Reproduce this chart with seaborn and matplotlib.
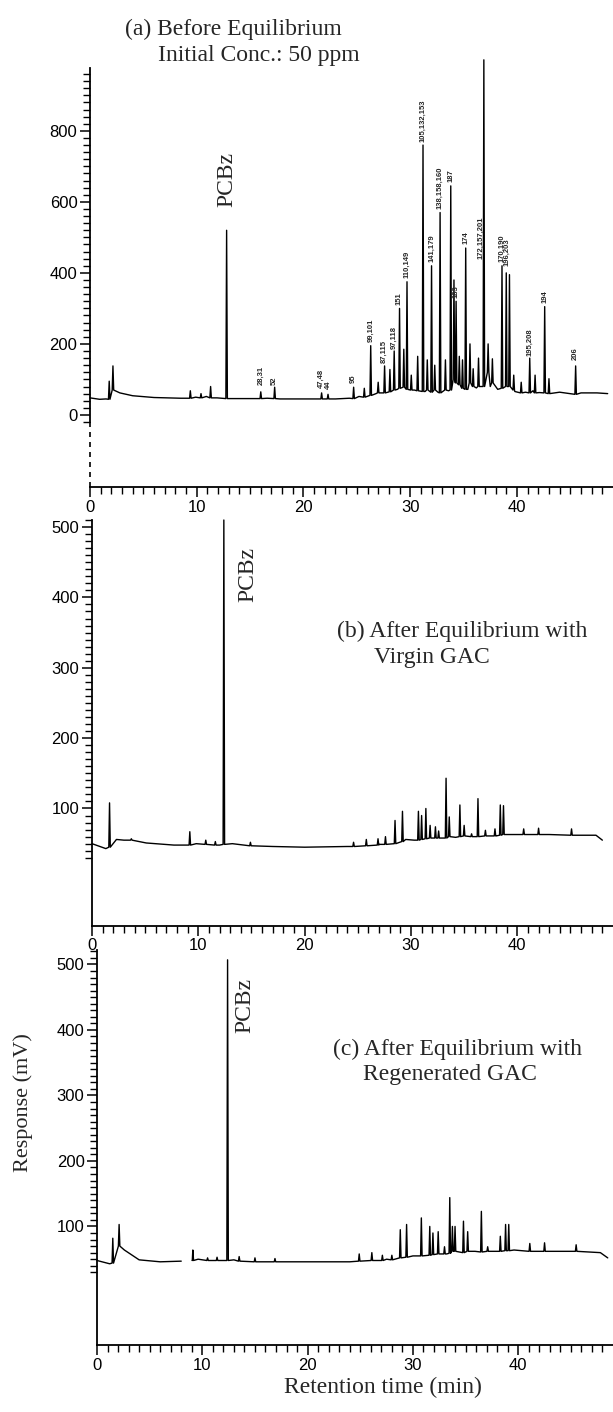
import numpy as np
import pandas as pd
import matplotlib
matplotlib.use('Agg')
import matplotlib.pyplot as plt
import seaborn as sns
from matplotlib.ticker import FixedLocator

# ---- (a) before equilibrium: baseline points + peaks (time min, top mV, foot mV)
a_base_t = [0, 0.9, 1.5, 2.8, 4.0, 6.0, 8.5, 9.9, 10.9, 11.9, 13.5, 15.3, 16.6, 17.8, 21.0, 23.0, 24.3,
            25.2, 26.8, 28.8, 30.4, 31.4, 32.6, 33.6, 35.4, 36.2, 37.5, 38.2, 39.8, 40.8, 41.5, 42.1,
            44.0, 46.0, 47.5, 48.5]
a_base_v = [48, 44, 45, 62, 54, 49, 47, 50, 52, 48, 46, 46, 47, 45, 45, 45, 47,
            52, 60, 72, 70, 66, 64, 68, 72, 76, 80, 72, 66, 64, 68, 63,
            64, 62, 62, 60]
a_peak_t = [1.8, 2.15, 9.4, 10.4, 11.3, 12.8, 16.0, 17.3, 21.7, 22.3, 24.7, 25.7, 26.3, 27.0, 27.6,
            28.1, 28.5, 29.0, 29.4, 29.7, 30.1, 30.7, 31.2, 31.6, 32.0, 32.3, 32.8, 33.3, 33.8, 34.1,
            34.3, 34.6, 34.9, 35.2, 35.6, 35.9, 36.4, 36.9, 37.3, 37.7, 38.6, 39.0, 39.3, 39.7, 40.4,
            41.2, 41.7, 42.6, 43.0, 45.5]
a_peak_top = [95, 138, 68, 60, 80, 520, 65, 78, 62, 58, 78, 75, 195, 92, 138,
              128, 180, 300, 185, 375, 112, 165, 760, 155, 420, 140, 570, 155, 645, 380,
              320, 165, 155, 470, 200, 130, 160, 1000, 200, 158, 420, 400, 395, 112, 92,
              160, 112, 305, 102, 138]
a_peak_foot = [44, 70, 47, 48, 48, 46, 46, 46, 45, 45, 46, 50, 55, 62, 62,
               65, 70, 75, 78, 72, 70, 68, 66, 70, 64, 70, 62, 70, 70, 100,
               90, 85, 75, 72, 90, 80, 80, 80, 120, 90, 75, 80, 80, 70, 62,
               62, 62, 62, 60, 58]
a_lab_t = [16.0, 17.3, 21.7, 22.3, 24.7, 26.3, 27.6, 28.5, 29.0, 29.7, 31.2, 32.0, 32.8, 33.8,
           34.3, 35.2, 36.6, 38.6, 39.1, 41.2, 42.6, 45.5]
a_lab_v = [85, 85, 75, 72, 90, 205, 145, 185, 310, 385, 770, 430, 580, 655,
           330, 480, 440, 430, 420, 165, 315, 155]
a_lab_txt = ['28,31', '52', '47,48', '44', '95', '99,101', '87,115', '97,118', '151', '110,149',
             '105,132,153', '141,179', '138,158,160', '187', '183', '174', '172,157,201',
             '170,190', '196,203', '195,208', '194', '206']

# ---- (b) after equilibrium with virgin GAC
b_base_t = [0, 1.3, 2.3, 3.0, 5.1, 7.7, 9.8, 12.0, 13.2, 17.0, 20.0, 24.0, 27.0, 29.5, 30.3,
            32.9, 34.2, 36.0, 38.0, 39.2, 41.0, 43.0, 47.4, 48.0]
b_base_v = [50, 43, 56, 55, 51, 48, 50, 48, 50, 46, 45, 46, 49, 56, 55,
            58, 59, 60, 61, 63, 63, 63, 62, 55]
b_peak_t = [1.65, 3.7, 9.2, 10.7, 11.6, 12.4, 14.9, 24.6, 25.8, 26.9, 27.6, 28.5, 29.2, 30.7, 31.0,
            31.4, 31.8, 32.3, 32.6, 33.3, 33.6, 34.6, 35.0, 35.7, 36.3, 37.0, 37.9, 38.4, 38.7,
            40.6, 42.0, 45.1]
b_peak_top = [108, 57, 67, 55, 53, 510, 52, 52, 56, 57, 60, 83, 96, 96, 90,
              100, 76, 74, 68, 143, 88, 105, 76, 64, 114, 69, 71, 105, 104,
              71, 72, 71]
b_peak_foot = [45, 55, 48, 49, 48, 49, 47, 46, 47, 48, 49, 50, 53, 55, 56,
               57, 58, 58, 58, 58, 60, 60, 61, 60, 60, 61, 61, 62, 63,
               63, 63, 62]

# ---- (c) after equilibrium with regenerated GAC (trace broken between 8 and 9 min)
c_base_t = [0, 1.2, 2.6, 4.0, 6.0, 8.0, 9.05, 9.6, 12.0, 13.0, 18.0, 24.0, 27.5, 30.0, 33.2,
            35.9, 37.6, 39.6, 43.5, 47.8, 48.5]
c_base_v = [48, 43, 64, 49, 46, 47, 48, 50, 48, 49, 46, 46, 50, 55, 58,
            62, 62, 64, 62, 60, 52]
c_peak_t = [1.5, 2.1, 9.1, 10.5, 11.4, 12.4, 13.5, 15.0, 16.9, 24.9, 26.1, 27.1, 28.0, 28.8, 29.4,
            30.8, 31.6, 31.9, 32.4, 33.0, 33.5, 33.75, 34.0, 34.8, 35.2, 36.5, 37.1, 38.3, 38.8,
            39.1, 41.1, 42.5, 45.5]
c_peak_top = [82, 103, 64, 52, 53, 507, 54, 52, 51, 58, 60, 56, 56, 95, 103,
              113, 100, 90, 92, 69, 144, 100, 100, 108, 92, 123, 69, 85, 103,
              103, 74, 75, 72]
c_peak_foot = [44, 70, 48, 48, 48, 48, 47, 46, 46, 47, 48, 48, 49, 52, 53,
               55, 56, 57, 58, 58, 59, 62, 62, 60, 62, 61, 62, 62, 63,
               63, 62, 62, 62]


def trace(base_t, base_v, pk_t, pk_top, pk_foot, w=0.07):
    pts = list(zip(base_t, base_v))
    for t, top, foot in zip(pk_t, pk_top, pk_foot):
        pts += [(t - w, foot), (t, top), (t + w, foot)]
    pts.sort()
    return pd.DataFrame(pts, columns=['t', 'v'])


df_a = trace(a_base_t, a_base_v, a_peak_t, a_peak_top, a_peak_foot)
df_a['seg'] = 0
df_b = trace(b_base_t, b_base_v, b_peak_t, b_peak_top, b_peak_foot)
df_b['seg'] = 0
df_c = trace(c_base_t, c_base_v, c_peak_t, c_peak_top, c_peak_foot)
df_c['seg'] = (df_c['t'] > 8.5).astype(int)

sns.set_theme(style='ticks')
plt.rcParams['font.family'] = ['Liberation Sans', 'DejaVu Sans']
SERIF = ['Liberation Serif', 'DejaVu Serif']

fig = plt.figure(figsize=(6.13, 14.12), dpi=100)
W, H = 613, 1412
# axes rectangles from the pixel layout of the scan
ax_a = fig.add_axes([90 / W, 1 - 487 / H, 1 - 90 / W, (487 - 68) / H])
ax_b = fig.add_axes([92 / W, 1 - 926 / H, 1 - 92 / W, (926 - 520) / H])
ax_c = fig.add_axes([97 / W, 1 - 1345 / H, 1 - 97 / W, (1345 - 950) / H])

panels = [(ax_a, df_a, (-203, 977), [0, 200, 400, 600, 800], np.arange(-20, 980, 20)),
          (ax_b, df_b, (-67, 510), [100, 200, 300, 400, 500], np.arange(30, 511, 10)),
          (ax_c, df_c, (-81, 522), [100, 200, 300, 400, 500], np.arange(30, 521, 10))]

for ax, df, ylim, majors, minors in panels:
    sns.lineplot(data=df, x='t', y='v', units='seg', estimator=None, sort=False,
                 color='black', lw=1.0, ax=ax, clip_on=False)
    ax.set_xlim(0, 49)
    ax.set_ylim(*ylim)
    ax.yaxis.set_major_locator(FixedLocator(majors))
    ax.yaxis.set_minor_locator(FixedLocator(minors))
    ax.xaxis.set_major_locator(FixedLocator([0, 10, 20, 30, 40]))
    ax.xaxis.set_minor_locator(FixedLocator(np.arange(0, 49, 1)))
    ax.tick_params(axis='both', which='major', direction='out', length=7, width=1.1,
                   labelsize=12, pad=2, color='black', labelcolor='black')
    ax.tick_params(axis='both', which='minor', direction='out', length=5, width=1.0, color='black')
    ax.set_xlabel('')
    ax.set_ylabel('')
    for s in ['top', 'right']:
        ax.spines[s].set_visible(False)
    for s in ['left', 'bottom']:
        ax.spines[s].set_linewidth(1.3)
        ax.spines[s].set_color('black')
    ax.set_facecolor('white')

# panel (a): y axis is dashed below the zero line in the scan
ax_a.spines['left'].set_bounds(-20, 977)
ax_a.axvline(0, ymin=0, ymax=(-20 + 203) / (977 + 203), color='black', lw=1.2, ls=(0, (3, 3)),
             clip_on=False)

# panel (a) texts
ax_a.text(3.3, 1085, '(a) Before Equilibrium', fontsize=17, family=SERIF, va='center', ha='left')
ax_a.text(6.4, 1011, 'Initial Conc.: 50 ppm', fontsize=17, family=SERIF, va='center', ha='left')
ax_a.text(12.8, 585, 'PCBz', rotation=90, fontsize=17, family=SERIF, va='bottom', ha='center')
for t, v, s in zip(a_lab_t, a_lab_v, a_lab_txt):
    ax_a.text(t, v, s, rotation=90, fontsize=5.5, weight='bold', va='bottom', ha='center')

# panel (b) texts
ax_b.text(14.65, 433, 'PCBz', rotation=90, fontsize=17, family=SERIF, va='center', ha='center')
ax_b.text(23.0, 352, '(b) After Equilibrium with', fontsize=17, family=SERIF, va='center', ha='left')
ax_b.text(26.5, 314, 'Virgin GAC', fontsize=17, family=SERIF, va='center', ha='left')

# panel (c) texts
ax_c.text(14.0, 437, 'PCBz', rotation=90, fontsize=17, family=SERIF, va='center', ha='center')
ax_c.text(22.4, 370, '(c) After Equilibrium with', fontsize=17, family=SERIF, va='center', ha='left')
ax_c.text(25.3, 332, 'Regenerated GAC', fontsize=17, family=SERIF, va='center', ha='left')

fig.text(23 / W, 1 - 1103 / H, 'Response (mV)', rotation=90, fontsize=16, family=SERIF,
         va='center', ha='center')
fig.text(383 / W, 1 - 1387 / H, 'Retention time (min)', fontsize=17, family=SERIF,
         va='center', ha='center')

fig.savefig('out.png', dpi=100, facecolor='white')
